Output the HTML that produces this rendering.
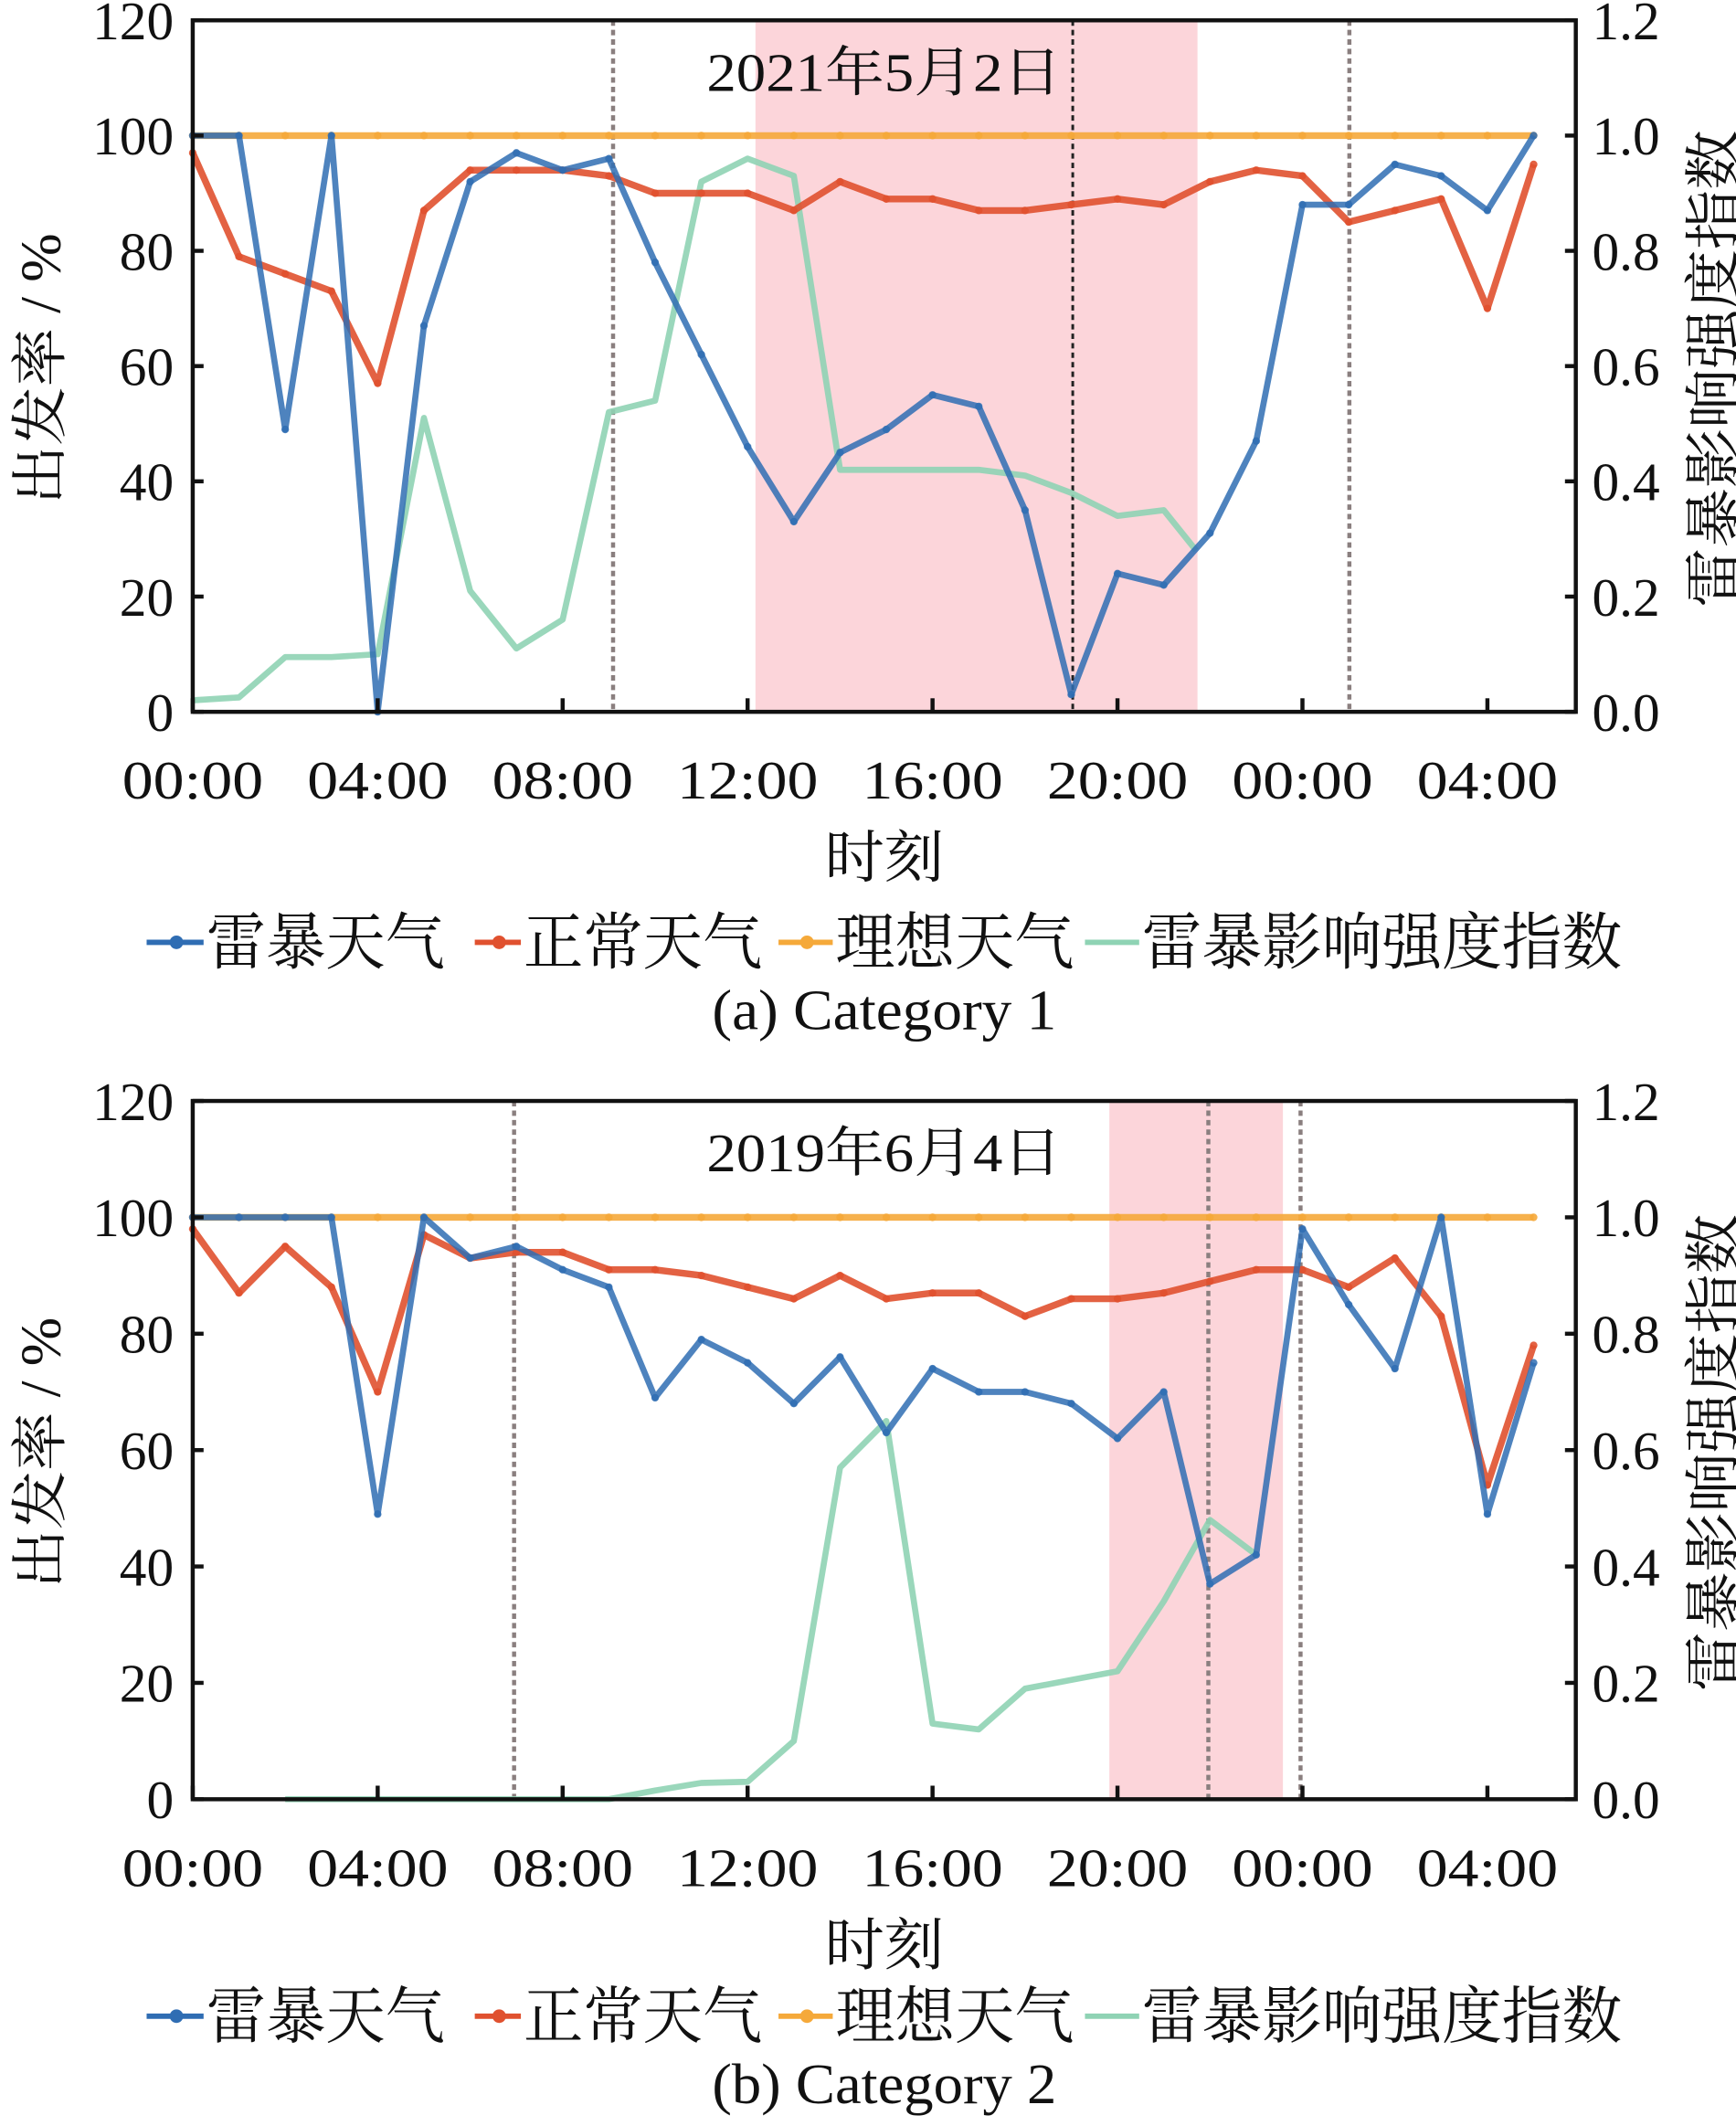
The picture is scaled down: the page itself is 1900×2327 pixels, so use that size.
<!DOCTYPE html>
<html><head><meta charset="utf-8"><style>
html,body{margin:0;padding:0;background:#fff;}
svg{display:block}
text{font-family:"Liberation Serif","Noto Serif CJK SC","Noto Sans CJK SC",serif;fill:#111}
</style></head><body>
<svg id="s" width="1900" height="2327" viewBox="0 0 1280 1568" xmlns="http://www.w3.org/2000/svg"></svg>
<script>
const s=document.getElementById('s');
let h='';
const X0=142,DX=34.1;
function chart(top,bot,opt){
  const Y=v=>bot-(v/120)*(bot-top);
  h+=`<rect x="${opt.band[0]}" y="${top}" width="${opt.band[1]-opt.band[0]}" height="${bot-top}" fill="#fcd5da"/>`;
  opt.dash.forEach(d=>{h+=`<line x1="${d[0]}" y1="${top}" x2="${d[0]}" y2="${bot}" stroke="${d[1]}" stroke-width="${d[2]}" stroke-dasharray="4,3"/>`;});
  const line=(arr,col,w,op,mk)=>{
    let pts=arr.map(p=>`${X0+p[0]*DX},${Y(p[1])}`).join(' ');
    h+=`<polyline points="${pts}" fill="none" stroke="${col}" stroke-width="${w}" stroke-opacity="${op}" stroke-linejoin="round"/>`;
    if(mk) arr.forEach(p=>{h+=`<circle cx="${X0+p[0]*DX}" cy="${Y(p[1])}" r="2.8" fill="${col}" fill-opacity="${op}"/>`;});
  };
  const idx=a=>a.map((v,i)=>[i,v]);
  line(opt.green,'#8fd3b4',4.5,0.9,false);
  line(idx(Array(30).fill(100)),'#f5a93a',5,0.9,true);
  line(idx(opt.red),'#e0512f',5,0.9,true);
  line(idx(opt.blue),'#2f6db3',4.5,0.85,true);
  h+=`<rect x="${X0}" y="${top}" width="1020" height="${bot-top}" fill="none" stroke="#111" stroke-width="3"/>`;
  for(let i=0;i<=6;i++){
    const y=Y(i*20);
    h+=`<line x1="${X0}" y1="${y}" x2="${X0+8}" y2="${y}" stroke="#111" stroke-width="3"/>`;
    h+=`<line x1="1162" y1="${y}" x2="1154" y2="${y}" stroke="#111" stroke-width="3"/>`;
    h+=`<text x="128" y="${y+14}" font-size="40" text-anchor="end">${i*20}</text>`;
    h+=`<text x="1174" y="${y+14}" font-size="40">${(i*0.2).toFixed(1)}</text>`;
  }
  const lab=['00:00','04:00','08:00','12:00','16:00','20:00','00:00','04:00'];
  lab.forEach((l,i)=>{const x=X0+i*4*DX;
    h+=`<line x1="${x}" y1="${bot}" x2="${x}" y2="${bot-10}" stroke="#111" stroke-width="3"/>`;
    h+=`<text x="${x}" y="${bot+64}" font-size="40" text-anchor="middle" textLength="104" lengthAdjust="spacingAndGlyphs">${l}</text>`;});
  h+=`<text x="652" y="${top+52}" font-size="40" text-anchor="middle" textLength="262" lengthAdjust="spacingAndGlyphs">${opt.title}</text>`;
  h+=`<text x="652" y="${bot+122}" font-size="42" text-anchor="middle" textLength="88" lengthAdjust="spacingAndGlyphs">时刻</text>`;
  const cy=(top+bot)/2;
  h+=`<text transform="translate(44,${cy+2}) rotate(-90)" font-size="42" text-anchor="middle" textLength="200" lengthAdjust="spacingAndGlyphs">出发率 / %</text>`;
  h+=`<text transform="translate(1278,${cy+2}) rotate(-90)" font-size="42" text-anchor="middle" textLength="352" lengthAdjust="spacingAndGlyphs">雷暴影响强度指数</text>`;
  const ly=opt.leg;
  const items=[['#2f6db3','雷暴天气',108,152],['#e0512f','正常天气',350,386],['#f5a93a','理想天气',574,616],['#8fd3b4','雷暴影响强度指数',800,842]];
  items.forEach((it,i)=>{
    h+=`<line x1="${it[2]}" y1="${ly}" x2="${it[3]-2}" y2="${ly}" stroke="${it[0]}" stroke-width="4"/>`;
    if(i<3) h+=`<circle cx="${(it[2]+it[3])/2}" cy="${ly}" r="5" fill="${it[0]}"/>`;
    const w=i==3?354:176;
    h+=`<text x="${it[3]}" y="${ly+16}" font-size="46" textLength="${w}" lengthAdjust="spacingAndGlyphs">${it[1]}</text>`;
  });
  h+=`<text x="652" y="${ly+64}" font-size="42" text-anchor="middle" textLength="254" lengthAdjust="spacingAndGlyphs">${opt.cap}</text>`;
}
chart(15,525,{
 band:[557,883],
 dash:[[452,'#8a7f7f',3],[791,'#222',2],[995,'#8a7f7f',3]],
 title:'2021年5月2日',
 blue:[100,100,49,100,0,67,92,97,94,96,78,62,46,33,45,49,55,53,35,3,24,22,31,47,88,88,95,93,87,100],
 red:[97,79,76,73,57,87,94,94,94,93,90,90,90,87,92,89,89,87,87,88,89,88,92,94,93,85,87,89,70,95],
 green:[[0,2],[1,2.5],[2,9.5],[3,9.5],[4,10],[5,51],[6,21],[7,11],[8,16],[9,52],[10,54],[11,92],[12,96],[13,93],[14,42],[15,42],[16,42],[17,42],[18,41],[19,38],[20,34],[21,35],[21.7,28]],
 leg:695,cap:'(a) Category 1'
});
chart(812,1327,{
 band:[818,946],
 dash:[[379,'#8a7f7f',3],[891,'#8a7f7f',3],[959,'#8a7f7f',3]],
 title:'2019年6月4日',
 blue:[100,100,100,100,49,100,93,95,91,88,69,79,75,68,76,63,74,70,70,68,62,70,37,42,98,85,74,100,49,75],
 red:[98,87,95,88,70,97,93,94,94,91,91,90,88,86,90,86,87,87,83,86,86,87,89,91,91,88,93,83,54,78],
 green:[[2,0],[4,0],[9,0],[10,1.5],[11,2.8],[12,3],[13,10],[14,57],[15,65],[16,13],[17,12],[18,19],[19,20.5],[20,22],[21,34],[22,48],[23,42]],
 leg:1487,cap:'(b) Category 2'
});
s.innerHTML=h;
</script>
</body></html>
